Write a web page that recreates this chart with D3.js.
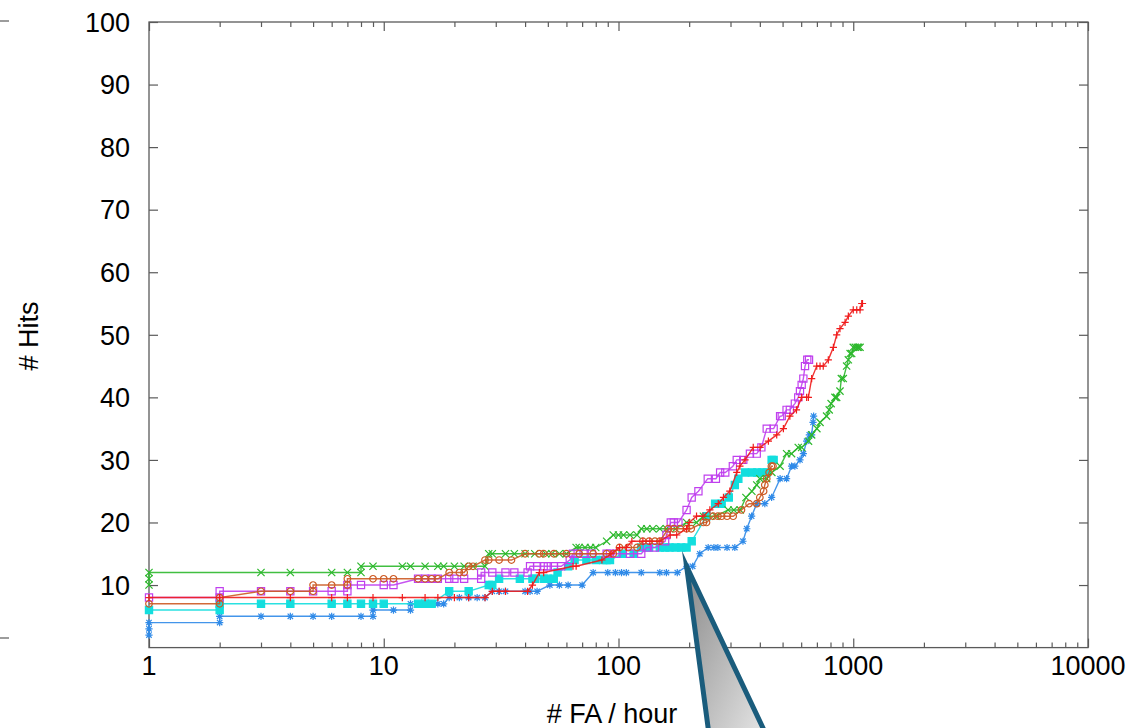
<!DOCTYPE html>
<html><head><meta charset="utf-8">
<script src="https://cdn.jsdelivr.net/npm/d3@7"></script>
<style>
html,body{margin:0;padding:0;background:#fff;}
svg{display:block;}
text{font-family:"Liberation Sans",Arial,Helvetica,sans-serif;fill:#000;}
</style></head><body>
<svg id="chart" width="1132" height="728"></svg>
<script>
// ---------- data ----------
const xTickValues = [1, 10, 100, 1000, 10000];
const xTickLabels = ["1", "10", "100", "1000", "10000"];
const yTickValues = [10, 20, 30, 40, 50, 60, 70, 80, 90, 100];
const yTickLabels = ["10", "20", "30", "40", "50", "60", "70", "80", "90", "100"];
const xAxisTitle = "# FA / hour";
const yAxisTitle = "# Hits";

const blueSeries = [[1,2],[1,3],[1,4],[2,4],[2,5],[3,5],[4,5],[5,5],[6,5],[8,5],[9,5],[9,6],[11,6],[13,6],[13,7],[15,7],[16,7],[17,7],[18,7],[19,8],[21,8],[23,8],[25,8],[27,8],[29,9],[31,9],[33,9],[40,9],[42,9],[45,9],[51,10],[56,10],[61,10],[70,10],[78,12],[90,12],[97,12],[103,12],[108,12],[125,12],[150,12],[160,12],[178,12],[195,13],[207,13],[222,15],[241,16],[255,16],[265,16],[290,16],[313,16],[339,17],[352,19],[369,21],[388,23],[420,23],[449,24],[488,27],[520,27],[546,29],[564,29],[593,30],[613,31],[633,33],[650,34],[665,34],[674,36],[678,37]];

const cyanSeries = [[1,6],[2,6],[2,7],[3,7],[4,7],[6,7],[7,7],[8,7],[9,7],[10,7],[14,7],[15,7],[16,7],[19,9],[23,9],[28,10],[29,10],[31,11],[38,11],[43,11],[44,11],[48,11],[50,11],[53,11],[55,12],[61,13],[65,14],[73,14],[80,14],[86,14],[89,14],[92,14],[104,15],[116,15],[125,16],[135,16],[150,16],[158,16],[165,16],[175,16],[185,16],[195,16],[205,17],[237,21],[258,23],[275,23],[295,24],[313,26],[324,27],[346,28],[370,28],[390,28],[410,28],[428,28],[449,30],[458,30]];

const greenSeries = [[1,10],[1,11],[1,12],[3,12],[4,12],[6,12],[7,12],[8,12],[8,13],[9,13],[12,13],[13,13],[15,13],[17,13],[18,13],[20,13],[22,13],[24,13],[27,13],[28,15],[29,15],[33,15],[36,15],[40,15],[44,15],[49,15],[52,15],[56,15],[60,15],[66,16],[68,16],[72,16],[76,16],[80,16],[89,17],[95,18],[100,18],[105,18],[112,18],[120,18],[125,19],[132,19],[140,19],[150,19],[160,19],[175,19],[195,20],[215,20],[230,21],[260,21],[293,22],[310,22],[330,22],[349,24],[370,25],[388,26],[400,27],[428,27],[450,28],[488,29],[520,31],[546,31],[583,32],[603,32],[645,33],[665,34],[700,35],[722,36],[770,37],[790,38],[805,39],[836,40],[850,40],[878,41],[890,43],[907,43],[937,45],[953,46],[970,47],[985,47],[1000,48],[1020,48],[1040,48],[1053,48],[1069,48]];

const purpleSeries = [[1,8],[2,8],[2,9],[3,9],[4,9],[5,9],[6,9],[7,9],[7,10],[8,10],[10,10],[11,10],[14,11],[15,11],[16,11],[17,11],[19,11],[20,11],[22,11],[26,11],[26,12],[29,12],[33,12],[36,12],[41,12],[42,13],[45,13],[48,13],[50,13],[53,13],[57,13],[62,14],[64,15],[67,15],[71,15],[77,15],[89,15],[92,15],[98,15],[112,15],[125,15],[132,16],[143,16],[158,17],[160,18],[167,20],[172,20],[180,20],[195,22],[205,24],[219,25],[240,27],[260,27],[271,28],[285,28],[307,29],[319,30],[340,30],[363,31],[388,31],[406,32],[428,35],[458,35],[488,37],[496,37],[520,38],[537,38],[564,39],[583,40],[593,41],[603,42],[613,43],[623,45],[637,46],[648,46]];

const orangeSeries = [[1,7],[2,7],[2,8],[3,9],[4,9],[5,9],[5,10],[6,10],[7,10],[7,11],[9,11],[10,11],[11,11],[14,11],[15,11],[16,11],[17,11],[19,12],[21,12],[22,12],[23,13],[24,13],[27,14],[28,14],[31,14],[35,14],[40,15],[46,15],[48,15],[53,15],[60,15],[68,15],[78,15],[89,15],[95,15],[101,16],[110,16],[120,16],[127,17],[135,17],[143,17],[150,17],[163,19],[172,19],[183,19],[195,19],[204,19],[230,20],[237,20],[253,21],[265,21],[275,21],[290,21],[308,21],[334,22],[360,23],[388,23],[400,24],[415,25],[420,26],[428,27],[438,28],[448,29],[455,29]];

const redSeries = [[1,8],[2,8],[4,8],[6,8],[7,8],[9,8],[12,8],[15,8],[17,8],[20,8],[23,8],[27,8],[29,9],[31,9],[33,9],[41,9],[43,10],[46,12],[48,12],[64,13],[66,13],[85,14],[93,15],[101,16],[108,16],[114,17],[127,17],[136,17],[150,17],[166,18],[177,18],[195,19],[200,20],[215,21],[229,21],[245,22],[266,23],[280,24],[298,25],[319,28],[329,29],[346,30],[375,32],[401,32],[435,33],[472,34],[504,35],[537,37],[573,38],[603,40],[633,40],[644,40],[665,43],[699,45],[722,45],[745,45],[783,46],[823,48],[850,50],[878,51],[923,52],[953,53],[1000,54],[1035,54],[1069,54],[1087,55],[1095,55]];

const seriesNames = ["blue", "cyan", "green", "purple", "orange", "red"];
const seriesColors = ["#2f8ae8", "#13dede", "#2cb82c", "#c040ee", "#cc5a24", "#f01c1c"];
const seriesMarkers = ["asterisk", "fsquare", "cross", "osquare", "circle", "plus"];
const seriesData = [blueSeries, cyanSeries, greenSeries, purpleSeries, orangeSeries, redSeries];

// callout anchored on a blue point
const calloutPoint = [195, 13];

// ---------- layout ----------
const margin = {left: 149, right: 1088, top: 22, bottom: 647.6};
const svg = d3.select("#chart");
const x = d3.scaleLog().domain([1, 10000]).range([margin.left, margin.right]);
const y = d3.scaleLinear().domain([0, 100]).range([margin.bottom, margin.top]);
const frameColor = "#5a5a5a";

// stray marks at far left
svg.append("line").attr("x1", 0).attr("x2", 9).attr("y1", 21).attr("y2", 21).attr("stroke", frameColor).attr("stroke-width", 1.2);
svg.append("line").attr("x1", 0).attr("x2", 9).attr("y1", 638).attr("y2", 638).attr("stroke", frameColor).attr("stroke-width", 1.2);

// frame
svg.append("rect").attr("x", margin.left).attr("y", margin.top)
  .attr("width", margin.right - margin.left).attr("height", margin.bottom - margin.top)
  .attr("fill", "none").attr("stroke", frameColor).attr("stroke-width", 1.3);

// y ticks (both sides, inward)
const gyl = svg.append("g").attr("transform", `translate(${margin.left},0)`)
  .call(d3.axisRight(y).tickValues(yTickValues).tickSize(9).tickFormat(""));
const gyr = svg.append("g").attr("transform", `translate(${margin.right},0)`)
  .call(d3.axisLeft(y).tickValues(yTickValues).tickSize(9).tickFormat(""));
[gyl, gyr].forEach(g => { g.select(".domain").remove(); g.selectAll("line").attr("stroke", frameColor).attr("stroke-width", 1.2); });

// y labels
svg.append("g").selectAll("text").data(yTickValues).join("text")
  .attr("x", 130).attr("y", d => y(d)).attr("dy", "0.36em")
  .attr("text-anchor", "end").attr("font-size", 27)
  .text((d, i) => yTickLabels[i]);

// x ticks major + minor (bottom and top, inward)
const minor = [];
for (let dec = 1; dec < 10000; dec *= 10) for (let k = 2; k <= 9; k++) minor.push(dec * k);
function xTicks(g, values, size, top) {
  g.call((top ? d3.axisBottom(x) : d3.axisTop(x)).tickValues(values).tickSize(size).tickFormat(""));
  g.select(".domain").remove();
  g.selectAll("line").attr("stroke", frameColor).attr("stroke-width", 1.2);
}
xTicks(svg.append("g").attr("transform", `translate(0,${margin.bottom})`), xTickValues, 9, false);
xTicks(svg.append("g").attr("transform", `translate(0,${margin.bottom})`), minor, 5, false);
xTicks(svg.append("g").attr("transform", `translate(0,${margin.top})`), xTickValues, 9, true);
xTicks(svg.append("g").attr("transform", `translate(0,${margin.top})`), minor, 5, true);

// x labels
svg.append("g").selectAll("text").data(xTickValues).join("text")
  .attr("x", d => x(d)).attr("y", 675)
  .attr("text-anchor", "middle").attr("font-size", 27)
  .text((d, i) => xTickLabels[i]);

// axis titles
svg.append("text").attr("x", 612).attr("y", 723).attr("text-anchor", "middle")
  .attr("font-size", 27).text(xAxisTitle);
svg.append("text").attr("transform", "translate(38,336) rotate(-90)")
  .attr("text-anchor", "middle").attr("font-size", 27).text(yAxisTitle);

// ---------- series ----------
const line = d3.line().x(d => x(d[0])).y(d => y(d[1]));
const s = 3.6;
const markerPaths = {
  plus: `M${-s},0H${s}M0,${-s}V${s}`,
  cross: `M${-s},${-s}L${s},${s}M${-s},${s}L${s},${-s}`,
  asterisk: `M${-s},0H${s}M0,${-s}V${s}M${-s*0.75},${-s*0.75}L${s*0.75},${s*0.75}M${-s*0.75},${s*0.75}L${s*0.75},${-s*0.75}`,
  osquare: `M${-s},${-s}H${s}V${s}H${-s}Z`,
  fsquare: `M${-s},${-s}H${s}V${s}H${-s}Z`,
  circle: d3.symbol(d3.symbolCircle, 34)()
};

seriesData.forEach((data, i) => {
  const col = seriesColors[i];
  const g = svg.append("g").attr("class", "series-" + seriesNames[i]);
  g.append("path").datum(data).attr("d", line)
    .attr("fill", "none").attr("stroke", col).attr("stroke-width", 1.4).attr("stroke-opacity", 0.9);
  const m = seriesMarkers[i];
  g.selectAll("path.mk").data(data).join("path").attr("class", "mk")
    .attr("transform", d => `translate(${x(d[0])},${y(d[1])})`)
    .attr("d", markerPaths[m])
    .attr("fill", m === "fsquare" ? col : "none")
    .attr("stroke", col).attr("stroke-width", 1.2);
});

// ---------- callout ----------
const defs = svg.append("defs");
const grad = defs.append("linearGradient").attr("id", "cg")
  .attr("x1", "0").attr("y1", "0").attr("x2", "1").attr("y2", "1");
grad.append("stop").attr("offset", "0%").attr("stop-color", "#8a8a8a");
grad.append("stop").attr("offset", "100%").attr("stop-color", "#ececec");
const tx = x(calloutPoint[0]), ty = y(calloutPoint[1]);
svg.append("path")
  .attr("d", `M${tx},${ty}L${tx + 24},${ty + 180}L${tx + 85},${ty + 180}Z`)
  .attr("fill", "url(#cg)").attr("stroke", "#1a5c7c").attr("stroke-width", 5)
  .attr("stroke-linejoin", "miter").attr("stroke-miterlimit", 20);
</script>
</body></html>
